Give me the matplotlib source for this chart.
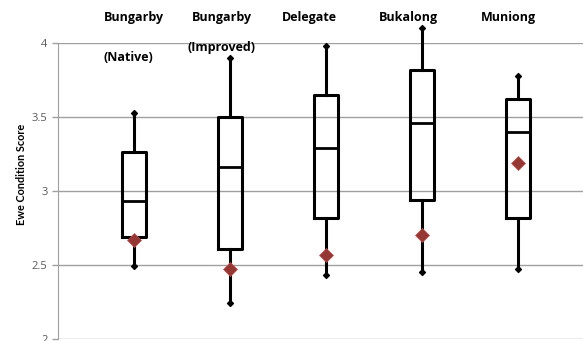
import matplotlib.pyplot as plt

# ewe condition score summary per site
sites = ["Bungarby", "Bungarby", "Delegate", "Bukalong", "Muniong"]
subtitles = ["(Native)", "(Improved)", "", "", ""]
whisker_hi = [3.53, 3.90, 3.98, 4.10, 3.78]
q3 = [3.26, 3.50, 3.65, 3.82, 3.62]
median = [2.93, 3.16, 3.29, 3.46, 3.40]
q1 = [2.69, 2.61, 2.82, 2.94, 2.82]
whisker_lo = [2.49, 2.24, 2.43, 2.45, 2.47]
mean = [2.67, 2.47, 2.57, 2.70, 3.19]

stats = []
for i in range(len(sites)):
    stats.append({"med": median[i], "q1": q1[i], "q3": q3[i],
                  "whislo": whisker_lo[i], "whishi": whisker_hi[i],
                  "mean": mean[i], "fliers": []})

plt.rcParams['font.family'] = ['Open Sans', 'DejaVu Sans']
fig = plt.figure(figsize=(5.83, 3.41), dpi=100)
ax = fig.add_axes([0.0995, 0.006, 0.9005, 0.868])

pos = list(range(len(sites)))
parts = ax.bxp(stats, positions=pos, widths=0.25, showmeans=True, showcaps=False,
               patch_artist=False,
               boxprops=dict(color="black", linewidth=2.2),
               medianprops=dict(color="black", linewidth=2.0),
               whiskerprops=dict(color="black", linewidth=2.2),
               meanprops=dict(marker="D", markerfacecolor="#953735",
                              markeredgecolor="#c0504d", markeredgewidth=0.5,
                              markersize=7.5, zorder=5))
for w in parts["whiskers"]:
    w.set_clip_on(False)
# small diamond caps at whisker ends
ax.scatter(pos, whisker_hi, marker="D", s=9, color="black", zorder=4, clip_on=False)
ax.scatter(pos, whisker_lo, marker="D", s=9, color="black", zorder=4, clip_on=False)

ax.set_xlim(-0.79, 4.68)
ax.set_ylim(2, 4)
ax.set_yticks([2, 2.5, 3, 3.5, 4])
ax.set_yticklabels(["2", "2.5", "3", "3.5", "4"])
ax.set_xticks([])
ax.yaxis.grid(True, color="#a0a0a0", linewidth=1)
ax.set_axisbelow(True)
ax.tick_params(axis="y", colors="#a0a0a0", labelcolor="#595959",
               labelsize=8, length=4, width=1)
for s in ["top", "right", "bottom"]:
    ax.spines[s].set_visible(False)
ax.spines["left"].set_color("#a0a0a0")

ax.set_ylabel("Ewe Condition Score", fontsize=7.8, fontweight="bold",
              family=["Lato", "DejaVu Sans"])
ax.yaxis.set_label_coords(-0.06, 0.557)

label_x = [-0.0, 0.92, 1.83, 2.86, 3.9]
sub_x = [-0.06, 0.91]
sub_y = [3.905, 3.966]
for i, name in enumerate(sites):
    ax.text(label_x[i], 4.17, name, ha="center", va="center", fontsize=9,
            fontweight="bold", clip_on=False)
for i in range(2):
    ax.text(sub_x[i], sub_y[i], subtitles[i], ha="center", va="center",
            fontsize=9, fontweight="bold")

fig.savefig("out.png", dpi=100)
